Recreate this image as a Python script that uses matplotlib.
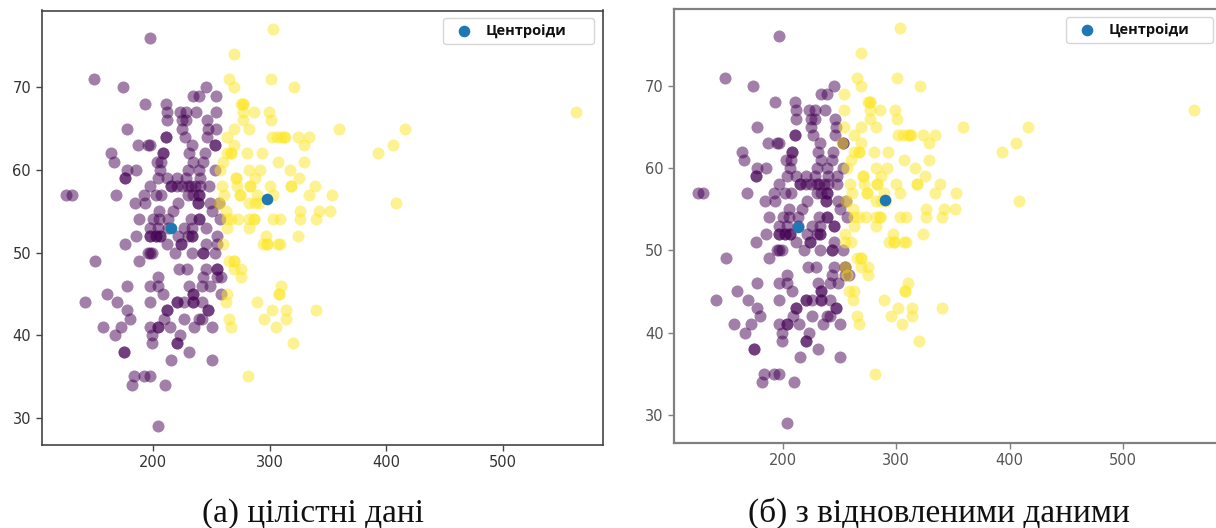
import matplotlib
matplotlib.use("Agg")
import matplotlib.pyplot as plt

W, H = 1216, 528

# Points, one row of values per y level.
purple_rows = {
    76: [197], 71: [149], 70: [174, 245], 69: [234, 239, 254], 68: [193, 211],
    67: [212, 223, 228, 237, 254], 66: [212, 225, 228, 246], 65: [177, 225, 247, 254],
    64: [211, 211, 227, 246], 63: [187, 195, 197, 233, 253, 253], 62: [164, 208, 208, 231, 244],
    61: [166, 203, 207, 234, 243], 60: [177, 185, 206, 230, 239, 253],
    59: [176, 176, 204, 212, 220, 228, 240],
    58: [197, 215, 215, 220, 225, 230, 232, 236, 240, 248],
    57: [125, 130, 168, 192, 202, 207, 230, 234, 239, 239],
    56: [184, 193, 221, 238, 238, 249, 256], 55: [205, 217, 250],
    54: [188, 200, 205, 213, 232, 239, 239, 257], 53: [197, 204, 213, 226, 233, 245],
    52: [185, 197, 197, 202, 202, 206, 206, 221, 230, 233, 233, 255],
    51: [176, 212, 224, 224, 245, 255], 50: [195, 197, 199, 219, 233, 243, 243, 253],
    49: [150, 188], 48: [222, 229, 245, 255, 255], 47: [204, 243, 255, 258],
    46: [177, 197, 204, 231, 242, 249], 45: [160, 208, 234, 234, 258],
    44: [141, 169, 197, 220, 220, 226, 234, 234, 242], 43: [177, 212, 212, 247, 247],
    42: [180, 209, 226, 239, 242], 41: [157, 172, 197, 204, 204, 214, 235, 250],
    40: [167, 199, 223], 39: [199, 220, 220], 38: [175, 175, 231], 37: [215, 250],
    35: [183, 192, 197], 34: [182, 210], 29: [204],
}
yellow_rows = {
    77: [303], 74: [269], 71: [265, 301], 70: [269, 321], 68: [275, 277, 277],
    67: [277, 286, 299, 563], 66: [277, 301], 65: [269, 282, 359, 416],
    64: [263, 302, 306, 310, 312, 313, 324, 334], 63: [269, 329, 406],
    62: [263, 267, 267, 280, 293, 393], 61: [260, 307, 329], 60: [257, 282, 292, 317],
    59: [271, 271, 287, 325], 58: [259, 272, 283, 283, 300, 318, 318, 339],
    57: [261, 274, 274, 289, 303, 334, 353], 56: [256, 282, 287, 291, 408],
    55: [262, 326, 342, 352], 54: [263, 267, 273, 282, 286, 286, 303, 309, 326, 340],
    53: [263, 282], 52: [297, 324], 51: [260, 294, 298, 298, 307, 309],
    49: [265, 269, 269], 48: [269, 275], 47: [275], 46: [310], 45: [263, 308, 308],
    44: [262, 289], 43: [302, 314, 340], 42: [265, 295, 314], 41: [267, 305],
    39: [320], 35: [281],
}
# The right panel assigns these few points to the other cluster or restores them.
right_to_yellow = [(254, 69), (254, 67), (254, 65), (255, 52), (255, 51), (258, 45)]
right_extra_yellow = [(255, 48), (257, 47), (252, 63)]
right_extra_purple = [(245, 53), (248, 59)]

centroids_left_x = [215, 298]
centroids_left_y = [53, 56.5]
centroids_right_x = [213.5, 290]
centroids_right_y = [52.8, 56.1]

x_ticks = [200, 300, 400, 500]
y_ticks = [30, 40, 50, 60, 70]
legend_label = "Центроіди"
caption_left = "(а) цілістні дані"
caption_right = "(б) з відновленими даними"


def flatten(rows):
    return [(x, y) for y, xs in rows.items() for x in xs]


def panel(box, pts_p, pts_y, cx, cy, spine_color, spine_width, tick_color, xlim, ylim):
    left, top, right, bottom = box
    ax = fig.add_axes([left / W, 1 - bottom / H, (right - left) / W, (bottom - top) / H])
    ax.scatter([p[0] for p in pts_p], [p[1] for p in pts_p], s=75, c="#440154", alpha=0.5, linewidths=0)
    ax.scatter([p[0] for p in pts_y], [p[1] for p in pts_y], s=75, c="#fde725", alpha=0.5, linewidths=0)
    handle = ax.scatter(cx, cy, s=70, c="#1f77b4", linewidths=0, label=legend_label, zorder=3)
    ax.set_xlim(*xlim)
    ax.set_ylim(*ylim)
    ax.set_xticks(x_ticks)
    ax.set_yticks(y_ticks)
    ax.tick_params(labelsize=10.5, length=4, width=1, color=spine_color, labelcolor=tick_color)
    for s in ax.spines.values():
        s.set_color(spine_color)
        s.set_linewidth(spine_width)
    return ax, handle


def add_legend(ax, handle, box):
    left, top, right, bottom = box
    ax.legend(handles=[handle], loc="upper left", mode="expand", borderaxespad=0,
              bbox_to_anchor=(left / W, 1 - bottom / H, (right - left) / W, (bottom - top) / H),
              bbox_transform=fig.transFigure, borderpad=0.4, handlelength=2.1, handletextpad=0.45,
              prop={"family": "Open Sans", "weight": "bold", "size": 10.5}, framealpha=0.8,
              labelcolor="#111111")


fig = plt.figure(figsize=(W / 100, H / 100), dpi=100, facecolor="white")

left_purple = flatten(purple_rows)
left_yellow = flatten(yellow_rows)

right_purple = list(left_purple)
for p in right_to_yellow:
    right_purple = [q for q in right_purple if q != p]
right_purple += right_extra_purple
right_yellow = left_yellow + right_to_yellow + right_extra_yellow

ax1, h1 = panel((41.5, 10.5, 602.5, 445), left_purple, left_yellow, centroids_left_x, centroids_left_y,
                "#444444", 1.2, "#333333", (104, 585.6), (26.7, 79.3))
add_legend(ax1, h1, (443, 18, 594, 48))

ax2, h2 = panel((674, 8.5, 1220, 442.7), right_purple, right_yellow, centroids_right_x, centroids_right_y,
                "#808080", 1.6, "#555555", (104, 585.6), (26.6, 79.4))
add_legend(ax2, h2, (1066, 17, 1213, 46))

fig.text(202 / W, 1 - 522 / H, caption_left, family="Liberation Serif", fontsize=24,
         ha="left", va="baseline", color="#111111")
fig.text(748 / W, 1 - 522 / H, caption_right, family="Liberation Serif", fontsize=24,
         ha="left", va="baseline", color="#111111")

fig.savefig("out.png", dpi=100)
